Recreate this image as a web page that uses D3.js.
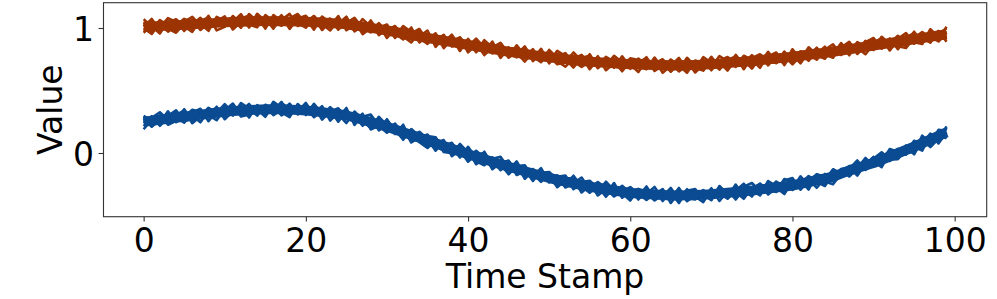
<!DOCTYPE html>
<html>
<head>
<meta charset="utf-8">
<script src="https://cdn.jsdelivr.net/npm/d3@7"></script>
<style>
html,body{margin:0;padding:0;background:#fff;}
svg{display:block;}
text{font-family:"DejaVu Sans",sans-serif;fill:#000;}
</style>
</head>
<body>
<svg id="chart" width="997" height="299"></svg>
<script>
// ---------- DATA ----------
const timeStamps = d3.range(0, 100);
const xTicks = [0, 20, 40, 60, 80, 100];
const yTicks = [0, 1];
const xLabel = "Time Stamp";
const yLabel = "Value";

const redMean = [
 1.01,1.013,1.016,1.019,1.022,1.025,1.029,1.033,1.037,1.041,
 1.045,1.048,1.05,1.052,1.054,1.055,1.055,1.054,1.053,1.052,
 1.05,1.047,1.044,1.04,1.035,1.03,1.021,1.011,1.001,0.991,
 0.98,0.968,0.956,0.944,0.932,0.92,0.909,0.898,0.887,0.876,
 0.865,0.854,0.843,0.832,0.821,0.81,0.801,0.792,0.783,0.774,
 0.765,0.758,0.751,0.744,0.737,0.73,0.726,0.722,0.718,0.714,
 0.71,0.708,0.706,0.704,0.702,0.70,0.70,0.702,0.704,0.707,
 0.71,0.715,0.72,0.725,0.73,0.735,0.742,0.749,0.756,0.763,
 0.77,0.778,0.786,0.794,0.802,0.81,0.82,0.83,0.84,0.85,
 0.86,0.87,0.88,0.89,0.90,0.91,0.92,0.93,0.94,0.95];

const blueMean = [
 0.25,0.258,0.266,0.274,0.282,0.29,0.298,0.306,0.314,0.322,
 0.33,0.335,0.34,0.344,0.347,0.35,0.35,0.349,0.347,0.344,
 0.34,0.334,0.327,0.319,0.31,0.30,0.284,0.266,0.248,0.229,
 0.21,0.188,0.166,0.144,0.122,0.10,0.078,0.056,0.034,0.012,
 -0.01,-0.03,-0.05,-0.07,-0.09,-0.11,-0.128,-0.146,-0.164,-0.182,
 -0.20,-0.214,-0.228,-0.242,-0.256,-0.27,-0.28,-0.29,-0.30,-0.31,
 -0.32,-0.324,-0.328,-0.332,-0.336,-0.34,-0.34,-0.338,-0.336,-0.333,
 -0.33,-0.324,-0.318,-0.312,-0.306,-0.30,-0.292,-0.284,-0.276,-0.268,
 -0.26,-0.246,-0.232,-0.218,-0.204,-0.19,-0.165,-0.14,-0.12,-0.10,
 -0.08,-0.054,-0.028,-0.002,0.024,0.05,0.079,0.108,0.137,0.165];

// per-run deviations from the mean, in steps of deviationUnit
const deviationUnit = 0.012;
const redDeviation = [
 [3,-2,4,0,-4,2,5,-1,-3,1, 4,-5,0,2,-2,3,-4,1,5,-3, 0,4,-1,-5,2,3,-2,0,4,-4, 1,-3,5,2,-1,-4,3,0,-2,4, -5,1,3,-3,2,0,-1,5,-4,2, 3,-2,-5,1,4,-1,0,3,-3,5, -2,2,4,-4,0,1,-3,5,-1,3, -4,2,0,-2,4,1,-5,3,-1,0, 2,-3,5,-1,-4,3,1,-2,4,0, -3,5,-1,2,-4,0,3,-2,1,4],
 [-4,1,-1,5,2,-3,0,4,-2,3, -1,2,-4,5,0,-3,1,3,-5,2, 4,-2,0,3,-4,1,5,-1,-3,2, 0,4,-2,-5,3,1,-1,4,-3,0, 2,-4,5,1,-2,3,0,-5,2,-1, 4,-3,1,0,-2,5,-4,2,3,-1, 0,-5,3,1,4,-2,2,-1,-3,5, 1,-4,3,0,-1,4,-2,5,-3,2, -1,3,0,-4,2,5,-3,1,-2,4, 0,-1,3,-5,2,4,-2,0,-4,1],
 [0,5,-3,2,4,-1,-5,3,1,-2, 2,0,5,-3,4,-1,2,-2,0,4, -3,1,3,-2,5,-4,0,2,-1,3, -5,2,0,4,-3,1,3,-1,5,-2, 1,3,-2,4,-5,2,3,0,-1,-4, 5,0,3,-2,1,-3,4,-5,0,2, 3,1,-2,4,-5,0,5,-3,2,-1, 4,0,-3,5,-2,-1,3,-4,2,1, -5,0,2,3,-1,-4,4,0,-2,3, 5,-3,1,0,3,-2,-4,5,-1,-3],
 [-2,-3,1,-4,0,4,2,-2,5,-5, -3,4,-2,0,3,-5,4,0,2,-1, -4,3,-5,1,-1,0,2,-4,5,-2, 3,-1,-4,1,5,-2,0,-3,1,4, -1,5,0,-2,3,-4,1,2,-3,5, -4,3,0,-5,2,4,-1,1,-2,-3, 4,3,-1,0,2,-4,1,3,-5,0, -2,5,1,-3,3,-4,0,2,4,-5, 3,1,-4,2,0,-2,5,-3,1,-1, 2,4,-5,1,-2,3,0,-4,3,-5],
 [5,0,-5,3,1,-2,3,-4,0,2, -2,1,3,-4,5,0,-2,4,-3,1, 2,-5,4,0,3,-2,-3,5,1,-1, 3,0,-2,5,-4,2,-3,1,3,-5, 4,-2,1,3,0,-3,5,-1,2,0, -3,5,2,-1,-4,0,3,-2,5,1, -3,4,0,-2,3,2,-4,0,1,-2, 5,-3,2,4,-5,3,-1,0,-2,3, 1,-5,2,0,4,-3,2,5,-4,1, 3,-2,0,4,-1,5,-3,2,0,2],
 [1,3,0,-2,-5,1,-3,2,4,-1, 0,-3,2,4,-1,2,-5,3,1,0, -2,4,-3,2,0,5,-4,1,-2,4, -1,3,1,-3,0,5,-5,2,0,1, 3,-1,-3,5,-4,1,2,-2,4,-3, 0,1,4,-3,3,-5,2,0,-1,4, -1,0,5,-3,1,-4,3,2,-2,-4, 3,1,-5,2,0,2,4,-1,-3,4, -4,2,3,-3,1,-1,-2,4,0,-5, 1,3,-4,2,5,-3,1,-1,3,-2],
 [-1,-5,2,1,3,-4,1,0,-5,4, 1,3,-1,-2,-4,4,0,-3,2,5, -1,0,2,-3,4,-2,3,-5,0,1, 4,-4,3,0,2,-1,4,-5,2,-3, 0,2,-5,1,5,-1,-3,4,0,3, 1,-4,-2,5,0,2,-3,4,1,-5, 2,-1,-3,5,-2,4,0,-5,3,1, -3,2,4,-1,1,-5,2,3,0,-4, 5,-2,-1,4,-3,0,3,-4,2,-2, 4,0,2,-3,-5,1,4,-1,-3,5]
];

const blueDeviation = [
 [2,-4,0,3,-1,5,-3,1,-2,4, -5,0,3,-1,2,-4,5,1,-3,0, 3,-2,4,-5,1,0,-3,2,5,-1, -4,3,0,-2,4,1,-5,3,-1,2, 0,-3,5,-2,1,4,-4,0,3,-1, 2,-5,1,4,-2,0,3,-3,5,-4, 1,3,-2,0,4,-5,2,-1,3,0, -4,5,-1,2,-3,1,4,-2,0,-5, 3,1,-4,2,-1,5,0,-3,4,-2, 1,-5,3,0,-2,4,-1,2,-4,3],
 [-3,2,5,-1,0,-4,2,4,-5,1, 3,-2,0,4,-3,1,-1,5,-4,2, 0,3,-5,1,4,-2,2,-1,-4,5, 1,-2,3,-5,0,4,-3,2,1,-4, 5,-1,-2,3,0,-5,2,4,-3,1, -1,3,-4,0,5,-2,1,-5,2,3, -4,1,0,5,-3,2,-2,4,-1,-5, 3,0,-4,1,5,-3,2,-1,4,0, -2,5,-3,1,-4,0,3,2,-5,1, 4,-3,0,2,-1,-4,5,-2,3,-1],
 [4,0,-2,5,-3,2,-4,0,3,-2, 1,5,-3,2,0,-5,3,-1,4,-3, 2,-4,1,0,-2,5,-5,3,0,-3, 5,-1,-4,2,3,-2,0,4,-5,1, -2,4,1,-4,3,-2,5,-3,0,2, 4,0,-1,3,-5,1,-2,5,0,-3, 2,-4,3,1,-1,5,-3,0,2,-2, 4,-5,1,3,-2,0,-4,5,1,-3, 0,2,-5,4,1,-2,3,-4,0,5, -2,1,4,-3,2,0,-5,3,1,-4],
 [-1,3,-4,1,4,-2,0,-5,2,3, -4,1,2,-5,3,0,-2,4,1,-1, 5,-3,0,2,-5,3,1,-4,2,0, -2,4,-1,3,-3,-5,2,0,4,-2, 3,-5,0,1,-4,2,-1,3,-2,5, -3,2,4,-4,1,3,-5,0,-1,4, 0,-2,5,-3,2,-1,4,-4,0,3, -1,2,-3,5,-4,1,0,3,-2,4, 5,-4,1,-2,3,-3,-1,0,4,-2, 3,5,-2,-4,0,3,-1,4,-5,0],
 [1,-3,3,-4,-2,0,4,2,-1,-5, 2,-3,5,1,-4,3,0,-2,-5,4, -1,2,-3,4,0,-5,4,0,-2,3, 1,-3,5,-4,2,0,-2,-3,3,1, -5,2,4,-1,-2,0,3,-5,2,-2, 0,-4,3,-1,2,4,0,-4,3,-1, -5,3,1,-4,0,2,-5,3,4,-3, 1,-2,0,-4,3,5,-1,-2,3,1, -3,0,4,-1,-5,2,1,-3,-2,4, 0,-2,5,1,-3,2,3,-5,-2,4],
 [-5,1,-1,2,5,-3,-2,3,0,1, -2,4,-4,-3,1,2,-4,0,3,-2, 4,-1,2,-3,3,1,-2,4,-5,-1, 3,1,-3,0,-1,3,4,-4,-3,5, 1,-3,-4,2,5,-1,0,1,-5,3, 2,-2,0,2,-3,-1,4,1,-4,0, 3,-3,-1,2,-4,3,1,-2,-3,2, -2,4,-1,0,-5,2,3,-4,0,-1, 4,-1,2,-5,0,3,-2,1,5,-3, -1,4,-3,0,3,-5,2,0,-1,-3],
 [3,-1,1,-3,2,4,-5,-1,4,0, 5,-1,-2,3,-2,-1,2,-4,0,3, -3,5,-1,-2,-1,2,0,-3,3,-4, 2,0,-5,4,1,-4,3,-1,-2,3, -3,0,3,-5,1,4,-2,2,0,-4, 3,1,-3,5,-1,-4,2,3,-3,0, 4,0,-4,1,3,-2,5,-3,-2,2, -1,3,2,-5,1,-4,3,0,-3,5, 2,-3,1,4,-2,-5,0,3,2,-1, 4,-4,1,3,-3,2,-2,-3,4,1]
];

const redColor = "#9c3403";
const blueColor = "#0a4b92";

// ---------- LAYOUT ----------
const W = 997, H = 299;
const plot = {left: 103.5, right: 986.7, top: 2.7, bottom: 216.7};
const fs = 33;

const svg = d3.select("#chart");

const x = d3.scaleLinear().domain([-4.95, 103.95]).range([plot.left, plot.right]);
const y = d3.scaleLinear().domain([-0.5096, 1.2024]).range([plot.bottom, plot.top]);

function buildSeries(mean, devRows) {
  return devRows.map(row => timeStamps.map((t, i) => ({t, v: mean[i] + (row[i] ?? 0) * deviationUnit})));
}
const redRuns = buildSeries(redMean, redDeviation);
const blueRuns = buildSeries(blueMean, blueDeviation);
const redCore = timeStamps.map((t, i) => ({t, v: redMean[i]}));
const blueCore = timeStamps.map((t, i) => ({t, v: blueMean[i]}));

const line = d3.line().x(d => x(d.t)).y(d => y(d.v));

const g = svg.append("g");
g.append("defs").append("clipPath").attr("id", "clip")
  .append("rect").attr("x", plot.left).attr("y", plot.top)
  .attr("width", plot.right - plot.left).attr("height", plot.bottom - plot.top);

const lines = g.append("g").attr("clip-path", "url(#clip)");
[[blueRuns, blueCore, blueColor], [redRuns, redCore, redColor]].forEach(([runs, core, col]) => {
  // dense centre of the bundle
  lines.append("path").datum(core)
    .attr("d", line)
    .attr("fill", "none")
    .attr("stroke", col)
    .attr("stroke-width", 10)
    .attr("stroke-linejoin", "round")
    .attr("stroke-linecap", "butt");
  lines.append("g").selectAll("path").data(runs).join("path")
    .attr("d", line)
    .attr("fill", "none")
    .attr("stroke", col)
    .attr("stroke-width", 2.6)
    .attr("stroke-linejoin", "round")
    .attr("stroke-linecap", "butt");
});

// axes
const xAxis = d3.axisBottom(x).tickValues(xTicks).tickFormat(d3.format("d")).tickSize(4.9).tickPadding(4);
const yAxis = d3.axisLeft(y).tickValues(yTicks).tickFormat(d3.format("d")).tickSize(4.9).tickPadding(4);

const gx = svg.append("g").attr("transform", `translate(0,${plot.bottom})`).call(xAxis);
gx.select(".domain").remove();
gx.selectAll(".tick line").attr("stroke", "#333").attr("stroke-width", 1.1);
gx.selectAll(".tick text").attr("font-size", fs).attr("font-family", "DejaVu Sans")
  .attr("dy", null).attr("y", 252 - plot.bottom).attr("fill", "#000");

const gy = svg.append("g").attr("transform", `translate(${plot.left},0)`).call(yAxis);
gy.select(".domain").remove();
gy.selectAll(".tick line").attr("stroke", "#333").attr("stroke-width", 1.1);
gy.selectAll(".tick text").attr("font-size", fs).attr("font-family", "DejaVu Sans")
  .attr("dy", null).attr("x", -9.5).attr("y", 12).attr("fill", "#000");

// frame
svg.append("rect")
  .attr("x", plot.left).attr("y", plot.top)
  .attr("width", plot.right - plot.left).attr("height", plot.bottom - plot.top)
  .attr("fill", "none").attr("stroke", "#333").attr("stroke-width", 1.1);

// axis labels
svg.append("text")
  .attr("x", (plot.left + plot.right) / 2).attr("y", 288)
  .attr("text-anchor", "middle").attr("font-size", fs)
  .text(xLabel);

svg.append("text")
  .attr("transform", `translate(61.5,${(plot.top + plot.bottom) / 2}) rotate(-90)`)
  .attr("text-anchor", "middle").attr("font-size", fs)
  .text(yLabel);
</script>
</body>
</html>
